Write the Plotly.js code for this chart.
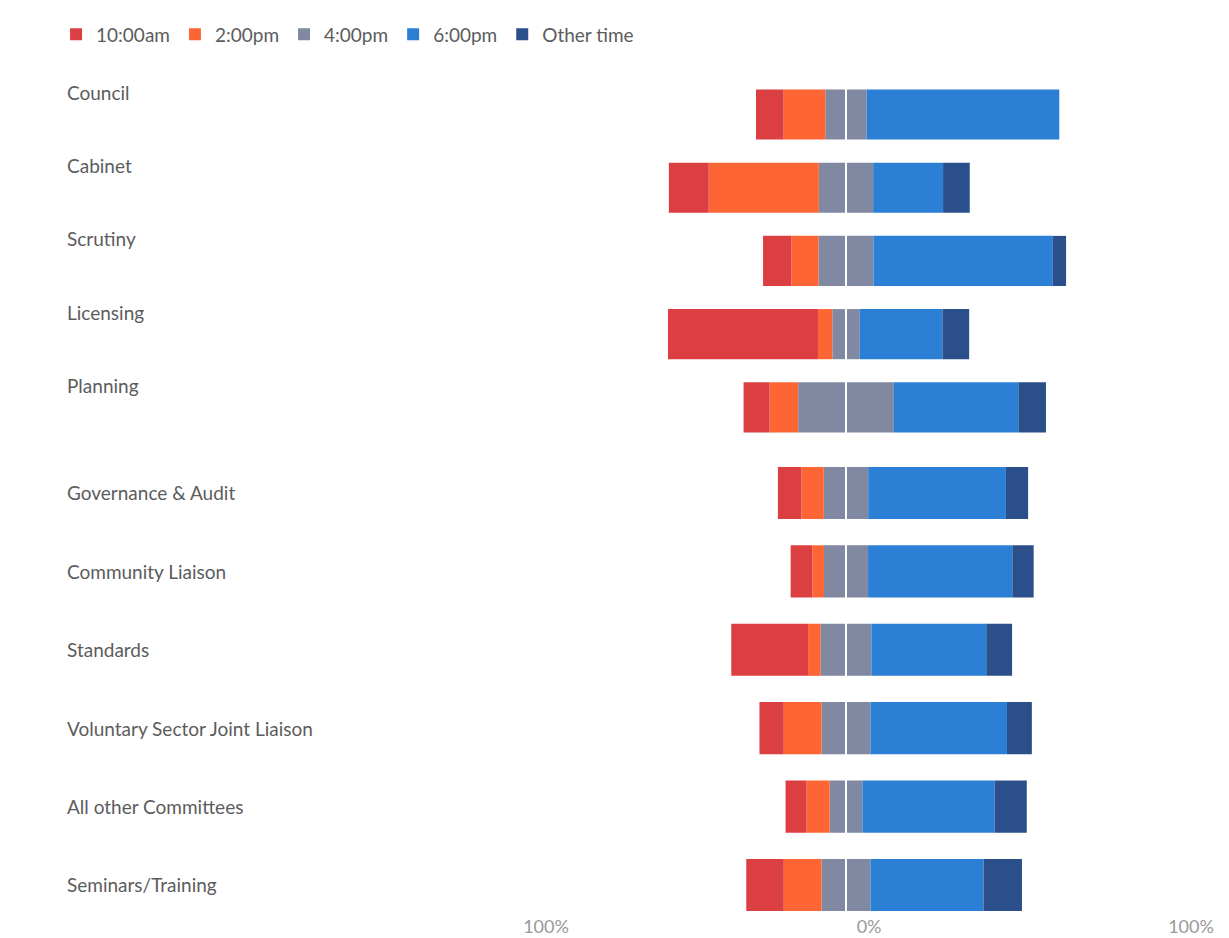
<!DOCTYPE html>
<html>
<head>
<meta charset="utf-8">
<script src="https://cdn.plot.ly/plotly-3.0.1.min.js"></script>
<style>
  html, body { margin: 0; padding: 0; background: #ffffff; }
  #chart { width: 1229px; height: 938px; }
</style>
</head>
<body>
<div id="chart"></div>
<script>
// Committees (top to bottom); the first group is drawn slightly tighter than the second
const categoriesMain = ["Council", "Cabinet", "Scrutiny", "Licensing", "Planning"];
const categoriesOther = [
  "Governance & Audit", "Community Liaison", "Standards",
  "Voluntary Sector Joint Liaison", "All other Committees", "Seminars/Training"
];
const categories = categoriesMain.concat(categoriesOther);
// Percent of responses per preferred meeting time
const am10    = [9.2, 13.3, 9.4, 50.0, 8.7, 7.8, 7.2, 25.6, 8.1, 7.0, 12.5];
const pm2     = [13.9, 36.7, 9.1, 4.8, 9.5, 7.5, 3.9, 4.2, 12.6, 7.7, 12.6];
const pm4     = [13.8, 18.1, 18.3, 9.1, 31.9, 14.8, 14.7, 16.9, 16.3, 10.9, 16.3];
const pm6     = [64.2, 23.3, 59.8, 27.6, 41.5, 45.9, 48.1, 38.3, 45.5, 44.1, 37.7];
const other   = [0.0, 8.9, 4.4, 8.9, 9.2, 7.4, 7.1, 8.6, 8.3, 10.7, 12.8];
// Axis tick labels
const tickLabels = ["100%", "0%", "100%"];
const tickValues = [-100, 7.7, 115];

const colors = {
  am10: "#dc3f42", pm2: "#fe6535", pm4: "#8189a2", pm6: "#2b80d6", other: "#2a4f8a"
};

const nMain = categoriesMain.length;

function bar(name, values, color, group, opts) {
  const main = group === 0;
  const ys = main ? categoriesMain : categoriesOther;
  const xs = main ? values.slice(0, nMain) : values.slice(nMain);
  return Object.assign({
    type: "bar", orientation: "h", name: name, y: ys, x: xs,
    yaxis: main ? "y" : "y2", xaxis: "x",
    marker: { color: color, line: { width: 0 } },
    width: main ? 0.685 : 0.665, hoverinfo: "name+y",
    legendgroup: name, showlegend: main
  }, opts || {});
}

const neg = a => a.map(v => -v);
const half = a => a.map(v => v / 2);

const traces = [];
[0, 1].forEach(g => {
  // Stacking order: neutral halves nearest zero, then outward
  traces.push(bar("4:00pm", neg(half(pm4)), colors.pm4, g, { legendrank: 3 }));
  traces.push(bar("4:00pm", half(pm4), colors.pm4, g, { showlegend: false }));
  traces.push(bar("2:00pm", neg(pm2), colors.pm2, g, { legendrank: 2 }));
  traces.push(bar("6:00pm", pm6, colors.pm6, g, { legendrank: 4 }));
  traces.push(bar("10:00am", neg(am10), colors.am10, g, { legendrank: 1 }));
  traces.push(bar("Other time", other, colors.other, g, { legendrank: 5 }));
});

const labelFont = { family: "Lato, 'Open Sans', sans-serif", size: 19, color: "#5c5c5c" };

const annotations = categories.map((c, i) => ({
  xref: "paper", yref: i < nMain ? "y" : "y2", x: 0, y: c,
  xanchor: "left", yanchor: "middle", xshift: -2,
  text: c, showarrow: false, font: labelFont, yshift: i < nMain ? 22 : 0
}));

const noAxis = {
  type: "category", showticklabels: false, showgrid: false, zeroline: false,
  showline: false, ticks: "", fixedrange: true
};

const layout = {
  width: 1229, height: 938,
  paper_bgcolor: "#ffffff", plot_bgcolor: "#ffffff",
  barmode: "relative",
  margin: { l: 67, r: 10, t: 60, b: 24 },
  font: labelFont,
  xaxis: {
    range: [-259.67, 124.33], anchor: "y2",
    tickvals: tickValues, ticktext: tickLabels,
    showgrid: false, zeroline: false, showline: false, ticks: "",
    tickfont: { family: "Lato, 'Open Sans', sans-serif", size: 18, color: "#999999" },
    fixedrange: true
  },
  yaxis: Object.assign({}, noAxis, { domain: [0.5504, 0.979], range: [4.5, -0.5] }),
  yaxis2: Object.assign({}, noAxis, { domain: [0, 0.5389], range: [5.37, -0.5] }),
  showlegend: true,
  legend: {
    orientation: "h", x: -0.0095, xanchor: "left", y: 1.03, yanchor: "middle",
    font: { family: "Lato, 'Open Sans', sans-serif", size: 19, color: "#5c5c5c" },
    traceorder: "normal", itemclick: false, itemdoubleclick: false
  },
  shapes: [{
    type: "line", xref: "x", yref: "paper", x0: 0, x1: 0, y0: 0, y1: 1,
    line: { color: "#ffffff", width: 2 }, layer: "above"
  }],
  annotations: annotations
};

Plotly.newPlot("chart", traces, layout, { displayModeBar: false, staticPlot: true });
</script>
</body>
</html>
